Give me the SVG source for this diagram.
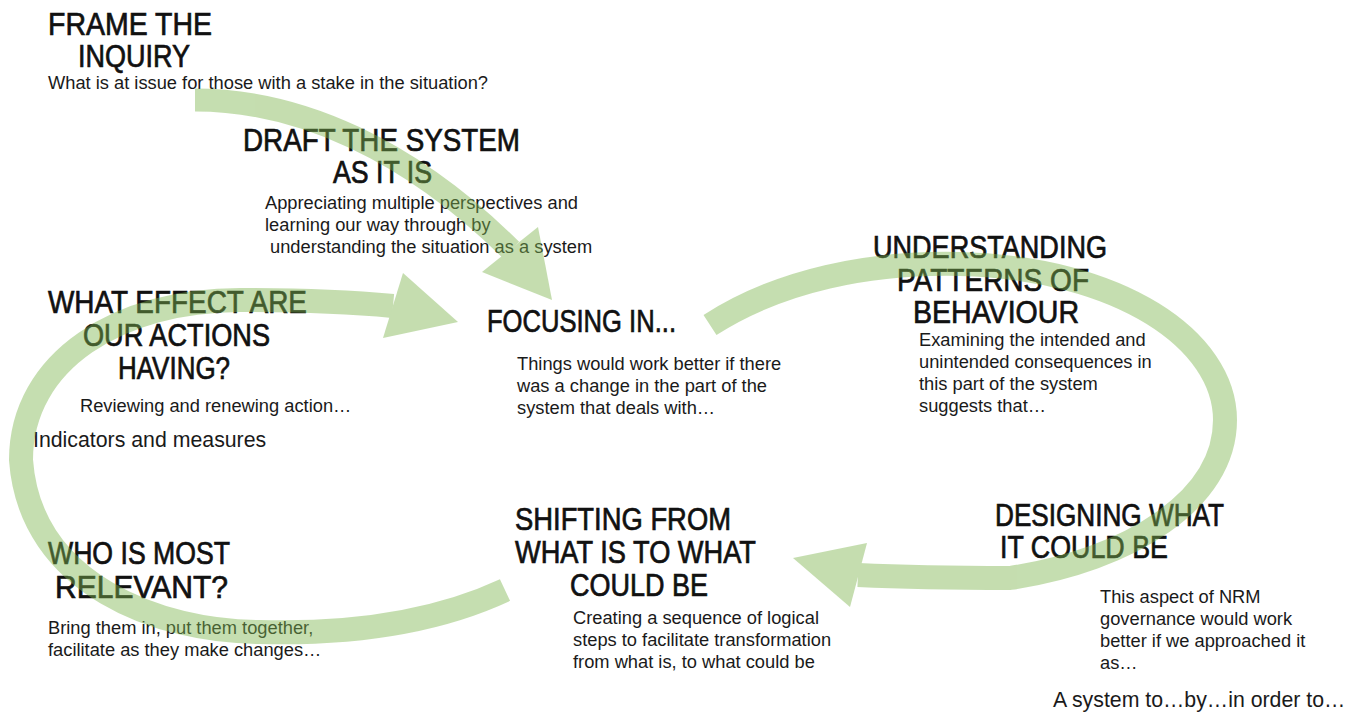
<svg xmlns="http://www.w3.org/2000/svg" width="1362" height="714" viewBox="0 0 1362 714">
<style>
.h{font-family:"Liberation Sans","DejaVu Sans",sans-serif;font-size:31px;fill:#111;stroke:#111;stroke-width:0.7}
.b{font-family:"Liberation Sans",Arial,sans-serif;font-size:18.3px;fill:#1a1a1a}
.bl{font-family:"Liberation Sans",Arial,sans-serif;font-size:21.3px;fill:#1a1a1a}
.arrow{opacity:0.45}
.band{fill:none;stroke:#7fb650;stroke-width:24}
.head{fill:#7fb650}
</style>
<rect width="1362" height="714" fill="#fff"/>
<g id="frame">
<text class="h" x="48" y="35" textLength="164" lengthAdjust="spacingAndGlyphs">FRAME THE</text>
<text class="h" x="78" y="67" textLength="112" lengthAdjust="spacingAndGlyphs">INQUIRY</text>
<text class="b" x="48" y="89">What is at issue for those with a stake in the situation?</text>
</g>
<g id="draft">
<text class="h" x="243" y="151" textLength="277" lengthAdjust="spacingAndGlyphs">DRAFT THE SYSTEM</text>
<text class="h" x="333" y="183" textLength="99" lengthAdjust="spacingAndGlyphs">AS IT IS</text>
<text class="b" x="265" y="209">Appreciating multiple perspectives and</text>
<text class="b" x="265" y="231">learning our way through by</text>
<text class="b" x="270" y="253">understanding the situation as a system</text>
</g>
<g id="effect">
<text class="h" x="48" y="313" textLength="259" lengthAdjust="spacingAndGlyphs">WHAT EFFECT ARE</text>
<text class="h" x="83" y="346" textLength="187" lengthAdjust="spacingAndGlyphs">OUR ACTIONS</text>
<text class="h" x="118" y="379" textLength="112" lengthAdjust="spacingAndGlyphs">HAVING?</text>
<text class="b" x="80" y="412">Reviewing and renewing action…</text>
<text class="bl" x="33" y="447">Indicators and measures</text>
</g>
<g id="relevant">
<text class="h" x="48" y="564" textLength="182" lengthAdjust="spacingAndGlyphs">WHO IS MOST</text>
<text class="h" x="55" y="598" textLength="173" lengthAdjust="spacingAndGlyphs">RELEVANT?</text>
<text class="b" x="48" y="634">Bring them in, put them together,</text>
<text class="b" x="48" y="656">facilitate as they make changes…</text>
</g>
<g id="focusing">
<text class="h" x="487" y="332" textLength="189" lengthAdjust="spacingAndGlyphs">FOCUSING IN...</text>
<text class="b" x="517" y="370">Things would work better if there</text>
<text class="b" x="517" y="392">was a change in the part of the</text>
<text class="b" x="517" y="414">system that deals with…</text>
</g>
<g id="shifting">
<text class="h" x="515" y="530" textLength="216" lengthAdjust="spacingAndGlyphs">SHIFTING FROM</text>
<text class="h" x="515" y="563" textLength="241" lengthAdjust="spacingAndGlyphs">WHAT IS TO WHAT</text>
<text class="h" x="570" y="596" textLength="138" lengthAdjust="spacingAndGlyphs">COULD BE</text>
<text class="b" x="573" y="624">Creating a sequence of logical</text>
<text class="b" x="573" y="646">steps to facilitate transformation</text>
<text class="b" x="573" y="668">from what is, to what could be</text>
</g>
<g id="patterns">
<text class="h" x="873" y="258" textLength="234" lengthAdjust="spacingAndGlyphs">UNDERSTANDING</text>
<text class="h" x="897" y="291" textLength="192" lengthAdjust="spacingAndGlyphs">PATTERNS OF</text>
<text class="h" x="913" y="323" textLength="166" lengthAdjust="spacingAndGlyphs">BEHAVIOUR</text>
<text class="b" x="919" y="346">Examining the intended and</text>
<text class="b" x="919" y="368">unintended consequences in</text>
<text class="b" x="919" y="390">this part of the system</text>
<text class="b" x="919" y="412">suggests that…</text>
</g>
<g id="designing">
<text class="h" x="995" y="526" textLength="229" lengthAdjust="spacingAndGlyphs">DESIGNING WHAT</text>
<text class="h" x="1000" y="558" textLength="168" lengthAdjust="spacingAndGlyphs">IT COULD BE</text>
<text class="b" x="1100" y="603">This aspect of NRM</text>
<text class="b" x="1100" y="625">governance would work</text>
<text class="b" x="1100" y="647">better if we approached it</text>
<text class="b" x="1100" y="669">as…</text>
<text class="bl" x="1053" y="707">A system to…by…in order to…</text>
</g>
<g id="connectors">
<g class="arrow">
<path class="band" style="stroke-width:23" d="M195,100 C300,100 410,150 511,250"/>
<polygon class="head" points="482,272 538,227 552,300"/>
</g>
<g class="arrow">
<path class="band" d="M505,590 C430,625 340,634 260,632 C160,632 30,585 21,460 C21,360 120,300 240,300 C300,300 350,302 393,306"/>
<polygon class="head" points="403,273 458,322 383,338"/>
</g>
<g class="arrow">
<path class="band" d="M710,325 C780,280 870,262 960,264 C1120,268 1225,340 1225,420 C1225,500 1130,560 1010,578 C950,578 900,577 858,575"/>
<polygon class="head" points="867,543 793,558 850,607"/>
</g>
</g>
</svg>
